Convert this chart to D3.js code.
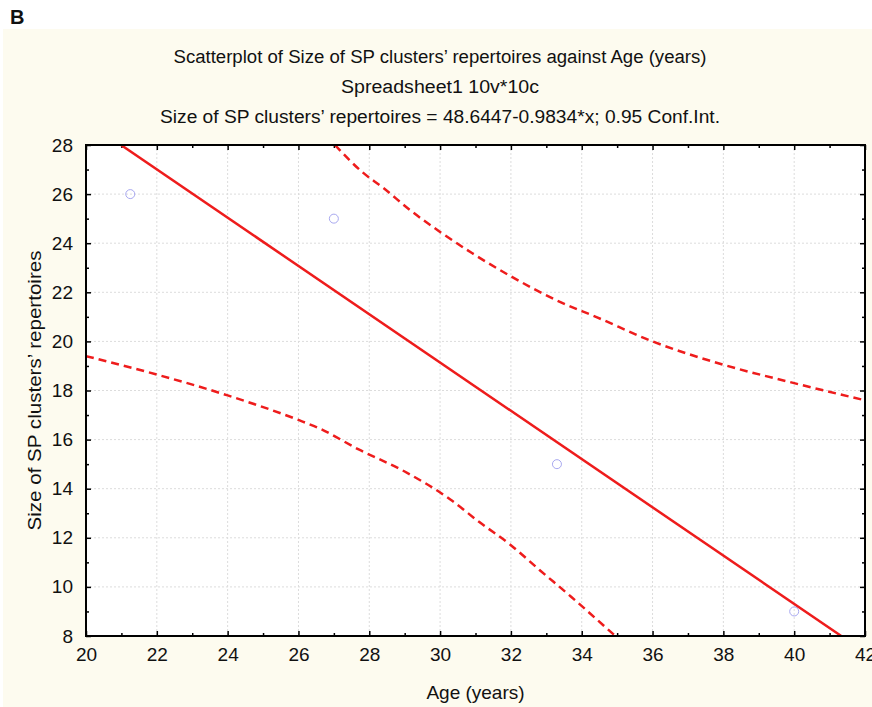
<!DOCTYPE html>
<html>
<head>
<meta charset="utf-8">
<script src="https://cdn.jsdelivr.net/npm/d3@7"></script>
<style>
  body { margin: 0; background: #fff; }
  text { font-family: 'Liberation Sans', Arial, sans-serif; fill: #111; }
</style>
</head>
<body>
<svg id="chart"></svg>
<script>
// data
var ages = [21.25, 27.0, 33.3, 40.0]
var sizes = [26, 25, 15, 9]

// fitted line (clipped to the plot frame)
var fitLine = [[20.99, 28], [41.33, 8]]

// 0.95 confidence band
var upperBand = [[27.03, 28], [27.8, 26.9], [28.4, 26.25], [29.15, 25.35], [30.0, 24.46], [30.9, 23.6],
    [32.0, 22.65], [33.4, 21.6], [34.4, 21.0], [36.0, 20.0], [38.0, 19.05], [40.0, 18.3], [42.0, 17.6]]
var lowerBand = [[20.0, 19.4], [22.0, 18.65], [24.0, 17.8], [26.0, 16.8], [26.6, 16.45], [27.7, 15.6],
    [29.0, 14.7], [30.3, 13.55], [31.1, 12.65], [32.0, 11.7], [32.8, 10.7], [33.7, 9.6], [34.6, 8.45], [34.95, 8.0]]

var xTicks = [20, 22, 24, 26, 28, 30, 32, 34, 36, 38, 40, 42]
var yTicks = [8, 10, 12, 14, 16, 18, 20, 22, 24, 26, 28]
var xMinor = d3.range(21, 42, 2)
var yMinor = d3.range(9, 28, 2)

var titleLines = [
    'Scatterplot of Size of SP clusters\u2019 repertoires against Age (years)',
    'Spreadsheet1 10v*10c',
    'Size of SP clusters\u2019 repertoires = 48.6447-0.9834*x; 0.95 Conf.Int.'
]

var W = 872, H = 707
var plot = {left: 86, right: 865, top: 145, bottom: 636}

var svg = d3.select('#chart').attr('width', W).attr('height', H)

// cream figure background
svg.append('rect')
    .attr('x', 3).attr('y', 29)
    .attr('width', W - 3).attr('height', H - 29)
    .attr('fill', '#fdfbef')

svg.append('text')
    .text('B')
    .attr('x', 10).attr('y', 24)
    .attr('font-weight', 'bold')
    .attr('font-size', '20px')

var x = d3.scaleLinear().domain([20, 42]).range([plot.left, plot.right])
var y = d3.scaleLinear().domain([8, 28]).range([plot.bottom, plot.top])

svg.append('rect')
    .attr('x', plot.left).attr('y', plot.top)
    .attr('width', plot.right - plot.left).attr('height', plot.bottom - plot.top)
    .attr('fill', '#fff')

// titles
var titleY = [57, 87, 117]
var titleW = [533, 198, 560]
titleLines.forEach(function(t, i) {
    svg.append('text')
        .text(t)
        .attr('x', 440)
        .attr('y', titleY[i])
        .attr('dy', '0.35em')
        .attr('text-anchor', 'middle')
        .attr('font-size', '18px')
        .attr('textLength', titleW[i])
        .attr('lengthAdjust', 'spacingAndGlyphs')
})

// grid
var grid = svg.append('g').attr('stroke', '#dcdcdc').attr('stroke-dasharray', '2,2').attr('stroke-width', 1)
grid.selectAll('.gx').data(xTicks.slice(1, -1)).enter().append('line')
    .attr('x1', d => x(d)).attr('x2', d => x(d))
    .attr('y1', plot.top).attr('y2', plot.bottom)
grid.selectAll('.gy').data(yTicks.slice(1, -1)).enter().append('line')
    .attr('y1', d => y(d)).attr('y2', d => y(d))
    .attr('x1', plot.left).attr('x2', plot.right)

// axes, ticks pointing inward on all four sides
function styleAxis(g) {
    g.attr('font-size', null).attr('font-family', null)
    g.select('.domain').remove()
    g.selectAll('line').attr('stroke', '#000').attr('stroke-width', 1.5)
    g.selectAll('text').style('font-size', '19px').attr('fill', '#111')
}

svg.append('g')
    .attr('transform', 'translate(0,' + plot.bottom + ')')
    .call(d3.axisBottom(x).tickValues(xTicks).tickSize(-5).tickPadding(12).tickFormat(d3.format('d')))
    .call(styleAxis)
svg.append('g')
    .attr('transform', 'translate(0,' + plot.bottom + ')')
    .call(d3.axisBottom(x).tickValues(xMinor).tickSize(-3).tickFormat(''))
    .call(styleAxis)
svg.append('g')
    .attr('transform', 'translate(0,' + plot.top + ')')
    .call(d3.axisTop(x).tickValues(xTicks).tickSize(-5).tickFormat(''))
    .call(styleAxis)
svg.append('g')
    .attr('transform', 'translate(0,' + plot.top + ')')
    .call(d3.axisTop(x).tickValues(xMinor).tickSize(-3).tickFormat(''))
    .call(styleAxis)

svg.append('g')
    .attr('transform', 'translate(' + plot.left + ',0)')
    .call(d3.axisLeft(y).tickValues(yTicks).tickSize(-5).tickPadding(13).tickFormat(d3.format('d')))
    .call(styleAxis)
svg.append('g')
    .attr('transform', 'translate(' + plot.left + ',0)')
    .call(d3.axisLeft(y).tickValues(yMinor).tickSize(-3).tickFormat(''))
    .call(styleAxis)
svg.append('g')
    .attr('transform', 'translate(' + plot.right + ',0)')
    .call(d3.axisRight(y).tickValues(yTicks).tickSize(-5).tickFormat(''))
    .call(styleAxis)
svg.append('g')
    .attr('transform', 'translate(' + plot.right + ',0)')
    .call(d3.axisRight(y).tickValues(yMinor).tickSize(-3).tickFormat(''))
    .call(styleAxis)

// clip for the lines
svg.append('clipPath').attr('id', 'clip')
    .append('rect')
    .attr('x', plot.left).attr('y', plot.top)
    .attr('width', plot.right - plot.left).attr('height', plot.bottom - plot.top)

var line = d3.line().x(d => x(d[0])).y(d => y(d[1])).curve(d3.curveMonotoneX)
var marks = svg.append('g').attr('clip-path', 'url(#clip)')

marks.append('path')
    .datum(fitLine)
    .attr('d', line)
    .attr('fill', 'none')
    .attr('stroke', '#ee1c1c')
    .attr('stroke-width', 2.5)

;[upperBand, lowerBand].forEach(function(band) {
    marks.append('path')
        .datum(band)
        .attr('d', line)
        .attr('fill', 'none')
        .attr('stroke', '#ee1c1c')
        .attr('stroke-width', 2.5)
        .attr('stroke-dasharray', '8,5')
})

marks.selectAll('circle')
    .data(ages)
    .enter().append('circle')
    .attr('cx', d => x(d))
    .attr('cy', (d, i) => y(sizes[i]))
    .attr('r', 4.5)
    .attr('fill', 'none')
    .attr('stroke', '#a8a8f0')
    .attr('stroke-width', 1)

// frame
svg.append('rect')
    .attr('x', plot.left).attr('y', plot.top)
    .attr('width', plot.right - plot.left).attr('height', plot.bottom - plot.top)
    .attr('fill', 'none')
    .attr('stroke', '#000')
    .attr('stroke-width', 2)

// axis titles
svg.append('text')
    .text('Age (years)')
    .attr('x', (plot.left + plot.right) / 2)
    .attr('y', 692)
    .attr('dy', '0.35em')
    .attr('text-anchor', 'middle')
    .attr('font-size', '19px')

svg.append('text')
    .text('Size of SP clusters\u2019 repertoires')
    .attr('transform', 'translate(34,' + ((plot.top + plot.bottom) / 2) + ') rotate(-90)')
    .attr('dy', '0.35em')
    .attr('text-anchor', 'middle')
    .attr('font-size', '19px')
    .attr('textLength', 280)
    .attr('lengthAdjust', 'spacingAndGlyphs')
</script>
</body>
</html>
